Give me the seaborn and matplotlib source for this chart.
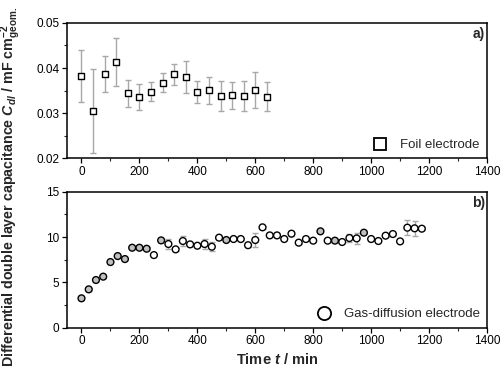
import matplotlib
matplotlib.use("Agg")
import matplotlib.pyplot as plt
import seaborn as sns
import pandas as pd
from matplotlib.ticker import MultipleLocator
from matplotlib.lines import Line2D

# ---- data ----
foil_time = [0, 40, 80, 120, 160, 200, 240, 280, 320, 360, 400, 440, 480, 520, 560, 600, 640]
foil_cdl = [0.0382, 0.0305, 0.0386, 0.0413, 0.0344, 0.0336, 0.0348, 0.0367, 0.0386, 0.0380,
            0.0347, 0.0351, 0.0338, 0.0340, 0.0339, 0.0352, 0.0336]
foil_err = [0.0057, 0.0092, 0.0040, 0.0053, 0.0030, 0.0028, 0.0020, 0.0021, 0.0023, 0.0036,
            0.0025, 0.0030, 0.0034, 0.0030, 0.0033, 0.0040, 0.0032]

gde_time = [0, 25, 50, 75, 100, 125, 150, 175, 200, 225, 250, 275, 300, 325, 350, 375,
            400, 425, 450, 475, 500, 525, 550, 575, 600, 625, 650, 675, 700, 725, 750, 775,
            800, 825, 850, 875, 900, 925, 950, 975, 1000, 1025, 1050, 1075, 1100, 1125, 1150, 1175]
gde_cdl = [3.24, 4.23, 5.26, 5.63, 7.24, 7.90, 7.57, 8.82, 8.82, 8.71, 8.01, 9.63, 9.23, 8.64, 9.56, 9.19,
           9.04, 9.23, 8.93, 9.93, 9.67, 9.78, 9.78, 9.10, 9.67, 11.07, 10.18, 10.18, 9.78, 10.37, 9.38, 9.78,
           9.60, 10.63, 9.60, 9.60, 9.45, 9.89, 9.85, 10.48, 9.78, 9.56, 10.15, 10.33, 9.52, 11.03, 10.96, 10.92]
gde_err = [0.15, 0.15, 0.15, 0.15, 0.15, 0.15, 0.15, 0.15, 0.15, 0.15, 0.15, 0.15, 0.50, 0.15, 0.50, 0.15,
           0.15, 0.60, 0.50, 0.15, 0.15, 0.15, 0.15, 0.20, 0.80, 0.15, 0.15, 0.15, 0.15, 0.30, 0.15, 0.15,
           0.15, 0.15, 0.15, 0.15, 0.15, 0.40, 0.60, 0.15, 0.15, 0.15, 0.15, 0.15, 0.15, 0.80, 0.80, 0.15]
gde_group = ["A"] * 10 + ["B", "A"] + ["B"] * 8 + ["A"] + ["B"] * 12 + ["A", "B", "A", "B", "B", "B", "A"] + ["B"] * 8

foil_df = pd.DataFrame({"t": foil_time, "c": foil_cdl})
gde_df = pd.DataFrame({"t": gde_time, "c": gde_cdl, "g": gde_group})

# ---- style ----
sns.set_theme(style="ticks")
plt.rcParams["font.family"] = ["Liberation Sans", "DejaVu Sans"]
plt.rcParams["mathtext.fontset"] = "custom"
plt.rcParams["mathtext.rm"] = "Liberation Sans:bold"
plt.rcParams["mathtext.bf"] = "Liberation Sans:bold:italic"
plt.rcParams["mathtext.it"] = "Liberation Sans:italic"

fig = plt.figure(figsize=(5.0, 3.71), dpi=100)
ax1 = fig.add_axes([0.134, 0.573, 0.840, 0.3655])
ax2 = fig.add_axes([0.134, 0.1167, 0.840, 0.3666])

errc = "#a8a8a8"
for ax in (ax1, ax2):
    for s in ax.spines.values():
        s.set_visible(True)
        s.set_linewidth(1.1)
        s.set_color("black")
    ax.set_xlim(-50, 1400)
    ax.xaxis.set_major_locator(MultipleLocator(200))
    ax.xaxis.set_minor_locator(MultipleLocator(100))
    ax.tick_params(axis="both", which="major", direction="out", length=3.5, width=0.9,
                   labelsize=8.5, colors="black", pad=2)
    ax.tick_params(axis="both", which="minor", direction="out", length=2, width=0.8)

# top panel
ax1.errorbar(foil_time, foil_cdl, yerr=foil_err, fmt="none", ecolor=errc,
             elinewidth=1.0, capsize=2.5, capthick=1.0, zorder=1)
sns.scatterplot(data=foil_df, x="t", y="c", ax=ax1, marker="s", s=20,
                facecolor="white", edgecolor="black", linewidth=1.0, zorder=3, legend=False)
ax1.set_ylim(0.02, 0.05)
ax1.yaxis.set_major_locator(MultipleLocator(0.01))
ax1.yaxis.set_minor_locator(MultipleLocator(0.005))
ax1.yaxis.set_major_formatter(matplotlib.ticker.FormatStrFormatter("%.2f"))
ax1.set_xlabel("")
ax1.set_ylabel("")
ax1.text(0.995, 0.97, "a)", transform=ax1.transAxes, ha="right", va="top",
         fontsize=10, fontweight="bold")
h1 = Line2D([], [], marker="s", linestyle="none", markersize=9, markerfacecolor="white",
            markeredgecolor="black", markeredgewidth=1.3)
ax1.legend([h1], ["Foil electrode"], loc="lower right", frameon=False, fontsize=9.5,
           handletextpad=0.5, borderaxespad=0.15)

# bottom panel
ax2.errorbar(gde_time, gde_cdl, yerr=gde_err, fmt="none", ecolor=errc,
             elinewidth=1.0, capsize=2.5, capthick=1.0, zorder=1)
sns.scatterplot(data=gde_df, x="t", y="c", hue="g", palette={"A": "#c0c0c0", "B": "white"},
                ax=ax2, marker="o", s=24, edgecolor="black", linewidth=1.0, zorder=3, legend=False)
ax2.set_ylim(0, 15)
ax2.yaxis.set_major_locator(MultipleLocator(5))
ax2.yaxis.set_minor_locator(MultipleLocator(2.5))
ax2.set_xlabel("")
ax2.set_ylabel("")
ax2.text(0.995, 0.97, "b)", transform=ax2.transAxes, ha="right", va="top",
         fontsize=10, fontweight="bold")
h2 = Line2D([], [], marker="o", linestyle="none", markersize=9.5, markerfacecolor="white",
            markeredgecolor="black", markeredgewidth=1.3)
ax2.legend([h2], ["Gas-diffusion electrode"], loc="lower right", frameon=False, fontsize=9.5,
           handletextpad=0.5, borderaxespad=0.15)

fig.text(0.022, 0.497,
         r"Differential double layer capacitance $\mathbf{C_{dl}}$ / mF cm$^{-2}_{\mathrm{geom.}}$",
         rotation=90, ha="center", va="center", fontsize=10.3, fontweight="bold")
fig.text(0.554, 0.012, r"Time $\mathbf{t}$ / min", ha="center", va="bottom",
         fontsize=10.5, fontweight="bold")

fig.savefig("out.png", dpi=100)
